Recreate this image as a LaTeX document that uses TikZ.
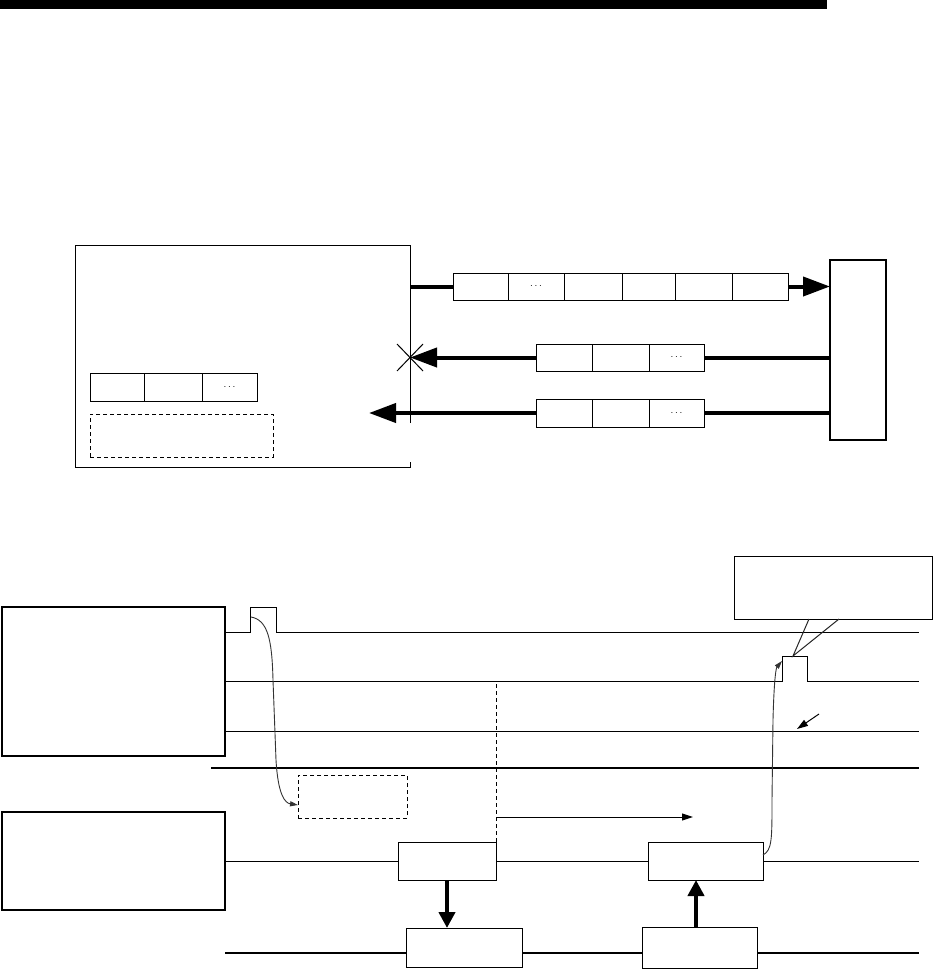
\documentclass[tikz,border=0pt]{standalone}
\usetikzlibrary{arrows.meta,calc}
\begin{document}
\begin{tikzpicture}[x=1pt,y=-1pt,
  box/.style={draw,line width=1pt,inner sep=0pt,outer sep=0pt,anchor=north west},
  dbox/.style={box,dash pattern=on 4pt off 3pt},
  thinline/.style={line width=1pt},
  thickline/.style={line width=4pt},
  bigarrow/.style={line width=4pt,-{Triangle[length=27pt,width=19pt]}},
  vertarrow/.style={line width=4.5pt,-{Triangle[length=16pt,width=16pt]}},
  smallarrow/.style={line width=1pt,-{Triangle[length=11pt,width=7pt]}},
  curvearrow/.style={line width=0.9pt,draw=black!80,-{Triangle[length=8pt,width=5pt]}},
  dots/.style={font=\normalsize}]
\useasboundingbox (0,0) rectangle (933,969);

% top bar
\fill (0,0) rectangle (827,9);

% ---------- upper diagram ----------
\draw[thinline] (410,423) -- (410,245) -- (75,245) -- (75,467) -- (410,467) -- (410,462);
\coordinate (frameTop) at (410,287);
\coordinate (frameMid) at (410,357.5);
\coordinate (frameLow) at (369,413);

\node[box,minimum width=54pt,minimum height=28pt] (r1) at (90,373) {};
\node[box,minimum width=58pt,minimum height=28pt] (r2) at (144,373) {};
\node[box,minimum width=55pt,minimum height=28pt,dots] (r3) at (202,373) {$\cdots$};
\node[dbox,minimum width=183pt,minimum height=43pt] (db1) at (90,414) {};

\node[box,minimum width=55pt,minimum height=27pt] (t1) at (453,273) {};
\node[box,minimum width=56pt,minimum height=27pt,dots] (t2) at (508,273) {$\cdots$};
\node[box,minimum width=58pt,minimum height=27pt] (t3) at (564,273) {};
\node[box,minimum width=53pt,minimum height=27pt] (t4) at (622,273) {};
\node[box,minimum width=57pt,minimum height=27pt] (t5) at (675,273) {};
\node[box,minimum width=56pt,minimum height=27pt] (t6) at (732,273) {};

\node[box,line width=2pt,minimum width=56pt,minimum height=180pt] (dev) at (830,260) {};

\node[box,minimum width=56pt,minimum height=27pt] (m1) at (536,344) {};
\node[box,minimum width=57pt,minimum height=27pt] (m2) at (592,344) {};
\node[box,minimum width=55pt,minimum height=27pt,dots] (m3) at (649,344) {$\cdots$};

\node[box,minimum width=56pt,minimum height=28pt] (n1) at (536,399) {};
\node[box,minimum width=57pt,minimum height=28pt] (n2) at (592,399) {};
\node[box,minimum width=55pt,minimum height=28pt,dots] (n3) at (649,399) {$\cdots$};

\draw[thickline] (frameTop) -- (t1.west |- frameTop);
\draw[bigarrow] (t6.east) -- (dev.west |- t6.east);
\draw[thickline] (dev.west |- m3.east) -- (m3.east);
\draw[bigarrow] (m1.west) -- (frameMid);
\draw[thickline] (dev.west |- n3.east) -- (n3.east);
\draw[bigarrow] (n1.west) -- (frameLow);
\draw[thinline] (397,344) -- (423,371) (397,371) -- (423,344);

% ---------- lower diagram ----------
\node[box,line width=1.2pt,minimum width=223pt,minimum height=149pt] (UL) at (2,607) {};
\node[box,line width=1.2pt,minimum width=223pt,minimum height=98pt] (LL) at (2,812) {};
\node[box,minimum width=98pt,minimum height=38pt] (A) at (398,842) {};
\node[box,minimum width=115pt,minimum height=38pt] (B) at (648,842) {};
\node[box,minimum width=116pt,minimum height=39pt] (C) at (406,928) {};
\node[box,minimum width=115pt,minimum height=41pt] (D) at (642,927) {};
\node[dbox,minimum width=109pt,minimum height=43pt] (DB) at (298,775) {};
\node[box,minimum width=198pt,minimum height=63pt] (CO) at (734,556) {};

% signal lines
\draw[thinline] (UL.east |- 0,632) -- (250,632) -- (250,607) -- (276,607) -- (276,632) -- (919,632);
\draw[thinline] (UL.east |- 0,681) -- (782,681) -- (782,656) -- (807,656) -- (807,681) -- (919,681);
\draw[thinline] (UL.east |- 0,731) -- (919,731);
\draw[line width=2.5pt] (211,768) -- (919,768);

% row line through A and B
\draw[thinline] (LL.east) -- (A.west);
\draw[thinline] (A.east) -- (B.west);
\draw[thinline] (B.east) -- (919,861);

% bottom line through C and D
\draw[line width=2.5pt] (225,953) -- (C.north west |- 0,953);
\draw[line width=2.5pt] (C.north east |- 0,953) -- (D.north west |- 0,953);
\draw[line width=2.5pt] (D.north east |- 0,953) -- (919,953);

% dashed vertical and horizontal arrow
\coordinate (dtop) at (496,684);
\draw[thinline,dash pattern=on 4pt off 3pt] (dtop) -- (A.north east);
\coordinate (hs) at (496,817);
\coordinate (he) at (693,817);
\draw[smallarrow] (hs) -- (he);

% vertical arrows
\draw[vertarrow] (A.south) -- (A.south |- C.north);
\coordinate (du) at (696,927);
\draw[vertarrow] (du) -- (du |- B.south);

% callout pointer
\coordinate (cotip) at (793,656);
\draw[line width=1pt,draw=black!85] (809,619) -- (cotip) -- (839,619);

% small pointing arrow
\coordinate (sa1) at (819,714);
\coordinate (sa2) at (797,729);
\draw[smallarrow] (sa1) -- (sa2);

% curved arrows
\coordinate (c1s) at (251,617);
\draw[curvearrow] (c1s) .. controls (268,620) and (272,640) .. (273,680)
  -- (276,760) .. controls (278,795) and (285,803) .. (DB.west |- 0,805);
\coordinate (c2e) at (782,661);
\draw[curvearrow] (B.east |- 0,855) .. controls (772,850) and (772,840) .. (772,800)
  -- (773,720) .. controls (774,680) and (776,668) .. (c2e);
\end{tikzpicture}
\end{document}
